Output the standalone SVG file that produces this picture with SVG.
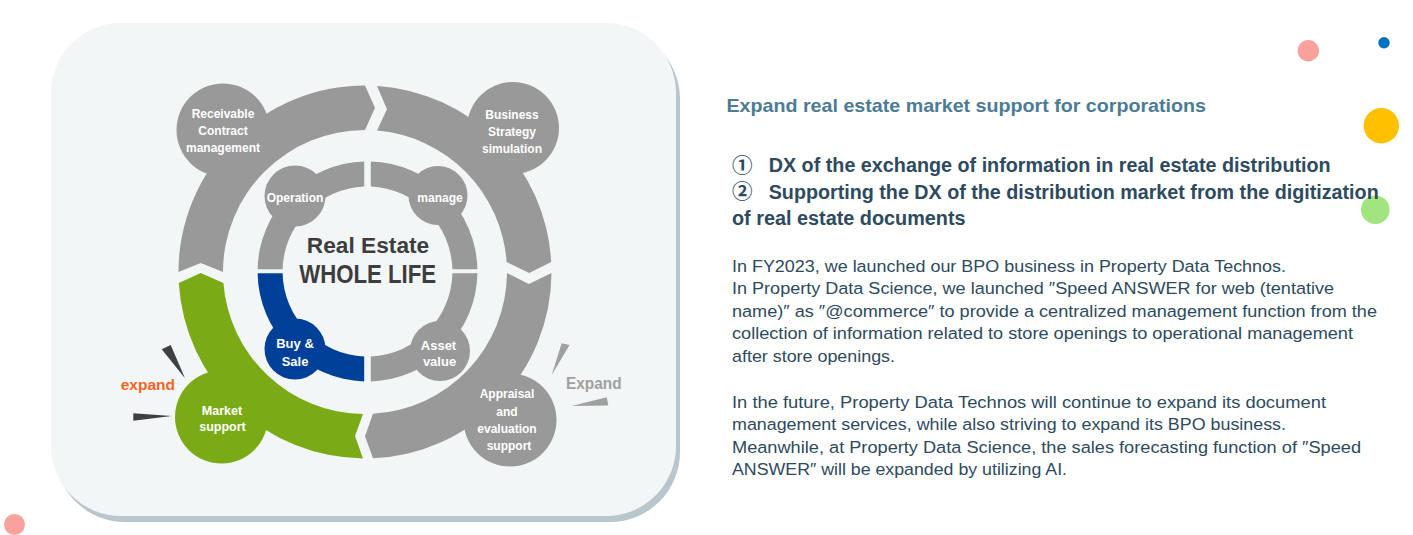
<svg xmlns="http://www.w3.org/2000/svg" width="1413" height="535" viewBox="0 0 1413 535">
<style>
.gray{fill:#999999}
.green{fill:#7aab16}
.blue{fill:#004098}
.lbl{font-family:"Liberation Sans",Arial,sans-serif;font-weight:bold;font-size:12px;fill:#ffffff;text-anchor:middle}
.lbl13{font-size:13px}
.center{font-family:"Liberation Sans",Arial,sans-serif;font-weight:bold;fill:#3d3d3d;text-anchor:middle}
.title{font-family:"Liberation Sans",Arial,sans-serif;font-weight:bold;font-size:18.5px;fill:#4c7b95}
.head{font-family:"Liberation Sans",Arial,"Noto Sans CJK JP",sans-serif;font-weight:bold;font-size:20px;fill:#2e4a5e}
.num{font-family:"Noto Sans CJK JP","DejaVu Sans",sans-serif;font-weight:bold;font-size:20px;fill:#2e4a5e}
.body{font-family:"Liberation Sans",Arial,sans-serif;font-size:16.3px;fill:#2d4a5c}
</style>
<rect width="1413" height="535" fill="#ffffff"/>
<!-- decorative dots -->
<circle cx="1308.3" cy="50.7" r="10.7" fill="#f9a19a"/>
<circle cx="1384" cy="42.7" r="5.7" fill="#0070c0"/>
<circle cx="1381.3" cy="125.7" r="17.7" fill="#ffc000"/>
<circle cx="1375.3" cy="209.7" r="14.3" fill="#a2e47f"/>
<circle cx="14.5" cy="524.5" r="10.5" fill="#f9a19a"/>
<!-- panel -->
<rect x="55" y="29" width="625" height="493" rx="70" fill="#b9c6ce"/>
<rect x="51" y="23" width="625" height="493" rx="70" fill="#f2f6f7"/>

<!-- outer ring nodes -->
<g id="node-receivable">
<path class="gray" d="M178.5 272 L200.75 263 L223 272 A142 142 0 0 1 365 130 L375 107.75 L365 85.5 A186.5 186.5 0 0 0 178.5 272 Z"/>
<circle class="gray" cx="223" cy="130" r="46.5"/>
<text class="lbl" x="223" y="118">Receivable</text>
<text class="lbl" x="223" y="135">Contract</text>
<text class="lbl" x="223" y="151.5">management</text>
</g>
<g id="node-business">
<path class="gray" d="M377 85.9 L387 109.2 L377 130.5 A142 142 0 0 1 506.6 262 L529.25 273 L551.2 262 A186.5 186.5 0 0 0 377 85.9 Z"/>
<circle class="gray" cx="513" cy="128" r="46"/>
<text class="lbl" x="512" y="119">Business</text>
<text class="lbl" x="512" y="136">Strategy</text>
<text class="lbl" x="512" y="152.5">simulation</text>
</g>
<g id="node-appraisal">
<path class="gray" d="M551.5 273 L528.8 284 L507 273 A142 142 0 0 1 373 413.8 L365 436.25 L373 458.3 A186.5 186.5 0 0 0 551.5 273 Z"/>
<circle class="gray" cx="510" cy="420" r="46.5"/>
<text class="lbl" x="507" y="398">Appraisal</text>
<text class="lbl" x="507" y="415.5">and</text>
<text class="lbl" x="507" y="433">evaluation</text>
<text class="lbl" x="509" y="449.5">support</text>
</g>
<g id="node-market">
<path class="green" d="M363 458.5 L355 435.9 L363 414 A142 142 0 0 1 223.4 283 L200.75 273 L178.8 283 A186.5 186.5 0 0 0 363 458.5 Z"/>
<circle class="green" cx="221.5" cy="417" r="46.5"/>
<text class="lbl" x="222" y="415" style="font-size:12.5px">Market</text>
<text class="lbl" x="222.5" y="430.5" style="font-size:12.5px">support</text>
</g>

<!-- inner ring nodes -->
<g id="node-operation">
<path class="gray" d="M257.6 269.3 A110 110 0 0 1 364.2 161.5 L364.2 186.6 A85 85 0 0 0 282.6 269.3 Z"/>
<circle class="gray" cx="295" cy="196" r="30.5"/>
<text class="lbl" x="295" y="201.5">Operation</text>
</g>
<g id="node-manage">
<path class="gray" d="M370.8 161.5 A110 110 0 0 1 477.4 269.3 L452.4 269.3 A85 85 0 0 0 370.8 186.6 Z"/>
<circle class="gray" cx="438" cy="195.5" r="29.5"/>
<text class="lbl" x="440" y="201.5">manage</text>
</g>
<g id="node-buysale">
<path class="blue" d="M364.2 381.5 A110 110 0 0 1 257.6 273.3 L282.6 273.3 A85 85 0 0 0 364.2 356.4 Z"/>
<circle class="blue" cx="295" cy="349" r="30.5"/>
<text class="lbl lbl13" x="295" y="347.5">Buy &amp;</text>
<text class="lbl lbl13" x="295" y="366">Sale</text>
</g>
<g id="node-asset">
<path class="gray" d="M477.4 273.3 A110 110 0 0 1 370.8 381.5 L370.8 356.4 A85 85 0 0 0 452.4 273.3 Z"/>
<circle class="gray" cx="440" cy="351" r="30"/>
<text class="lbl lbl13" x="438.5" y="349.5">Asset</text>
<text class="lbl lbl13" x="439.5" y="366">value</text>
</g>

<g id="node-center">
<text class="center" x="368" y="252.7" font-size="22.4" textLength="122.5" lengthAdjust="spacingAndGlyphs">Real Estate</text>
<text class="center" x="367.7" y="283.3" font-size="25.5" textLength="137" lengthAdjust="spacingAndGlyphs">WHOLE LIFE</text>
</g>

<!-- expand marks -->
<g id="connectors">
<polygon points="161.7,349.3 170.7,345 185,378.3" fill="#404040"/>
<polygon points="133.3,413.3 133.3,420.7 171.7,416" fill="#404040"/>
<polygon points="561.7,343.3 569.5,345 551.7,375" fill="#a0a0a0"/>
<polygon points="571.7,406 606.7,397.3 608.3,405.5" fill="#a0a0a0"/>
</g>
<g id="label-expand-left">
<text x="120.7" y="390" font-family="Liberation Sans, Arial, sans-serif" font-weight="bold" font-size="15.5" fill="#f26522" textLength="54.3" lengthAdjust="spacingAndGlyphs">expand</text>
</g>
<g id="label-expand-right">
<text x="566" y="389.3" font-family="Liberation Sans, Arial, sans-serif" font-weight="bold" font-size="16.3" fill="#a0a0a0" textLength="55.7" lengthAdjust="spacingAndGlyphs">Expand</text>
</g>

<!-- right text -->
<g id="text-block">
<text class="title" x="726.5" y="111.5" textLength="479.5" lengthAdjust="spacingAndGlyphs">Expand real estate market support for corporations</text>
<text class="num" x="732" y="172.5" textLength="20.5" lengthAdjust="spacingAndGlyphs">①</text>
<text class="head" x="768.7" y="171.7" textLength="562" lengthAdjust="spacingAndGlyphs">DX of the exchange of information in real estate distribution</text>
<text class="num" x="732" y="199.3" textLength="20.5" lengthAdjust="spacingAndGlyphs">②</text>
<text class="head" x="768.7" y="198.5" textLength="610" lengthAdjust="spacingAndGlyphs">Supporting the DX of the distribution market from the digitization</text>
<text class="head" x="732" y="225" textLength="233.6" lengthAdjust="spacingAndGlyphs">of real estate documents</text>

<text class="body" x="732" y="271.7" textLength="554" lengthAdjust="spacingAndGlyphs">In FY2023, we launched our BPO business in Property Data Technos.</text>
<text class="body" x="732" y="294.3" textLength="602" lengthAdjust="spacingAndGlyphs">In Property Data Science, we launched ″Speed ANSWER for web (tentative</text>
<text class="body" x="732" y="316.7" textLength="645" lengthAdjust="spacingAndGlyphs">name)″ as ″@commerce″ to provide a centralized management function from the</text>
<text class="body" x="732" y="339.3" textLength="621" lengthAdjust="spacingAndGlyphs">collection of information related to store openings to operational management</text>
<text class="body" x="732" y="361.7" textLength="163" lengthAdjust="spacingAndGlyphs">after store openings.</text>
<text class="body" x="732" y="407.7" textLength="594" lengthAdjust="spacingAndGlyphs">In the future, Property Data Technos will continue to expand its document</text>
<text class="body" x="732" y="430" textLength="554" lengthAdjust="spacingAndGlyphs">management services, while also striving to expand its BPO business.</text>
<text class="body" x="732" y="452.7" textLength="629" lengthAdjust="spacingAndGlyphs">Meanwhile, at Property Data Science, the sales forecasting function of ″Speed</text>
<text class="body" x="732" y="475" textLength="335" lengthAdjust="spacingAndGlyphs">ANSWER″ will be expanded by utilizing AI.</text>
</g>
</svg>
